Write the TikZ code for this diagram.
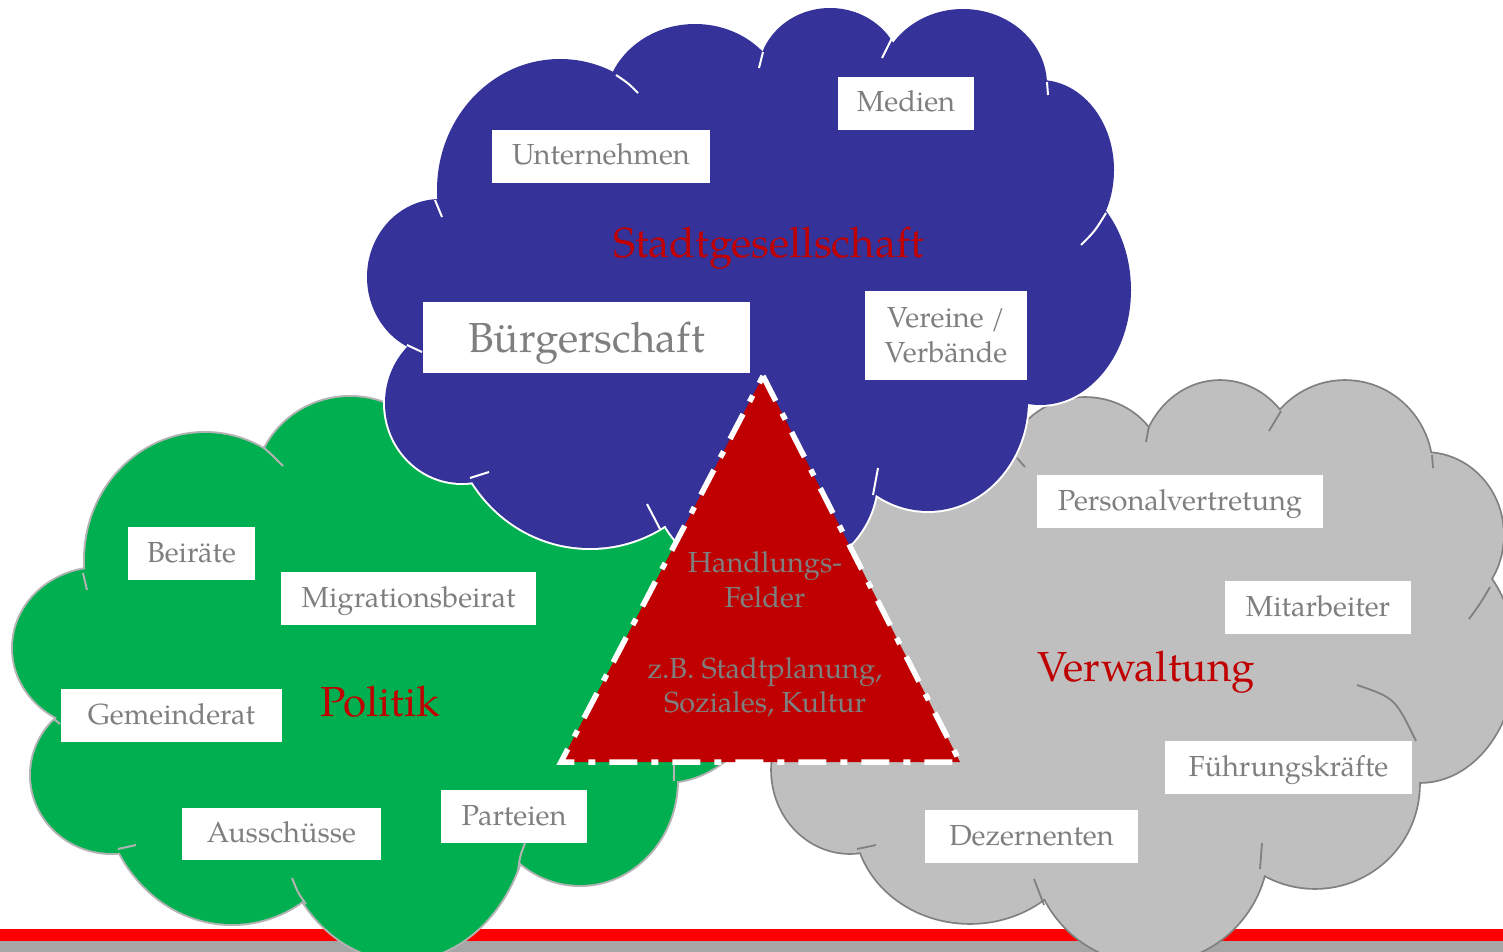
\documentclass[tikz,border=0pt]{standalone}
\usepackage{fontspec}
\setmainfont{texgyrepagella-regular.otf}
\definecolor{cblue}{HTML}{353399}
\definecolor{cgreen}{HTML}{00B050}
\definecolor{cgray}{HTML}{BFBFBF}
\definecolor{ctri}{HTML}{C00000}
\definecolor{ctext}{HTML}{7F7F7F}
\definecolor{cgline}{HTML}{B3B3B3}
\definecolor{crline}{HTML}{808080}
\definecolor{barred}{HTML}{FF0000}
\definecolor{bargray}{HTML}{A6A6A6}
\tikzset{
  lbl/.style={fill=white, text=ctext, inner sep=0pt, align=center, font=\fontsize{29}{35}\selectfont},
  one/.style={lbl, text height=22pt, text depth=5pt},
  ttl/.style={text=ctri, inner sep=0pt, anchor=base, font=\fontsize{42}{50}\selectfont},
  trit/.style={text=ctext, inner sep=0pt, align=center, font=\fontsize{29}{34.5}\selectfont},
  tri/.style={fill=ctri, draw=white, line width=5.5pt, dash pattern=on 28pt off 14pt on 7pt off 14pt},
  btail/.style={white, line width=2pt},
  gtail/.style={cgline, line width=2pt},
  rtail/.style={crline, line width=1.8pt},
}
\def\greenbumps{350/490/95/93, 205/560/120/127, 100/648/87/80, 112/775/81/78, 232/780/130/144, 402/800/128/160, 580/780/97/105, 665/605/125/177}
\def\graybumps{1085/470/78/72, 1220/470/80/89, 1345/470/87/89, 1425/535/78/82, 1420/660/95/122, 1315/784/104/104, 1150/845/118/118, 970/820/115/103, 850/770/78/83}
\def\bluebumps{560/190/123/131, 695/105/90/81, 830/75/72/67, 963/85/84/76, 1040/170/74/90, 1040/290/91/115, 928/400/100/111, 765/480/112/100, 590/404/140/144, 462/403/77/80, 440/277/73/78}
\begin{document}
\begin{tikzpicture}[x=1pt,y=-1pt]
\useasboundingbox (0,0) rectangle (1503,952);
% bottom bars
\fill[barred] (0,929) rectangle (1503,941);
\fill[bargray] (0,941) rectangle (1503,952);
% green cloud
\foreach \cx/\cy/\rx/\ry in \greenbumps {\draw[cgline, line width=4pt] (\cx,\cy) ellipse [x radius=\rx pt, y radius=\ry pt];}
\foreach \cx/\cy/\rx/\ry in \greenbumps {\fill[cgreen] (\cx,\cy) ellipse [x radius=\rx pt, y radius=\ry pt];}
\fill[cgreen] (350,680) ellipse [x radius=280pt, y radius=200pt];
\fill[cgreen] (380,420) -- (600,560) -- (700,540) -- (720,740) -- (600,750) -- (400,600) -- cycle;
\draw[gtail] (263,447) .. controls (272,455) .. (283,466);
\draw[gtail] (83,573) -- (87,590);
\draw[gtail] (54,719) -- (60,724);
\draw[gtail] (118,849) -- (136,845);
\draw[gtail] (306,904) .. controls (298,893) .. (292,878);
\draw[gtail] (518,871) .. controls (520,856) .. (525,843);
\draw[gtail] (674,763) -- (674,781);
% gray cloud
\foreach \cx/\cy/\rx/\ry in \graybumps {\draw[crline, line width=3.6pt] (\cx,\cy) ellipse [x radius=\rx pt, y radius=\ry pt];}
\foreach \cx/\cy/\rx/\ry in \graybumps {\fill[cgray] (\cx,\cy) ellipse [x radius=\rx pt, y radius=\ry pt];}
\fill[cgray] (1200,650) ellipse [x radius=260pt, y radius=200pt];
\fill[cgray] (850,500) -- (1000,440) -- (1060,480) -- (1100,600) -- (1010,770) -- (900,740) -- (800,700) -- cycle;
\draw[rtail] (1149,426) -- (1146,442);
\draw[rtail] (1281,411) -- (1269,431);
\draw[rtail] (1432,455) -- (1433,468);
\draw[rtail] (1490,587) .. controls (1480,604) .. (1469,619);
\draw[rtail] (1357,685) .. controls (1395,698) .. (1416,741);
\draw[rtail] (1260,869) -- (1262,843);
\draw[rtail] (1044,905) -- (1034,879);
\draw[rtail] (857,849) -- (876,845);
\draw[rtail] (1017,458) -- (1025,467);
% blue cloud
\foreach \cx/\cy/\rx/\ry in \bluebumps {\draw[white, line width=4pt] (\cx,\cy) ellipse [x radius=\rx pt, y radius=\ry pt];}
\foreach \cx/\cy/\rx/\ry in \bluebumps {\fill[cblue] (\cx,\cy) ellipse [x radius=\rx pt, y radius=\ry pt];}
\fill[cblue] (760,290) ellipse [x radius=300pt, y radius=200pt];
\draw[btail] (435,200) -- (442,217);
\draw[btail] (616,75) .. controls (628,83) .. (638,93);
\draw[btail] (763,52) -- (759,68);
\draw[btail] (892,38) -- (882,58);
\draw[btail] (1047,82) -- (1048,95);
\draw[btail] (1106,213) .. controls (1095,231) .. (1081,245);
\draw[btail] (873,495) -- (878,468);
\draw[btail] (660,529) -- (647,504);
\draw[btail] (470,478) -- (489,472);
\draw[btail] (407,345) -- (422,352);
% triangle
\coordinate (ta) at (763,376);
\coordinate (tr) at (960,762);
\coordinate (tl) at (561,762);
\draw[tri] (ta) -- (tr) -- (tl) -- cycle;
\node[trit] (hf) at (765,580) {Handlungs-\\Felder};
\node[trit] (bsp) at (765,687) {z.B. Stadtplanung,\\Soziales, Kultur};
% titles
\node[ttl] (stg) at (769,257) {Stadtgesellschaft};
\node[ttl] (pol) at (380,716) {Politik};
\node[ttl] (verw) at (1146,681) {Verwaltung};
% labels
\node[one, minimum width=218pt, minimum height=53pt] (unt) at (601,156.5) {Unternehmen};
\node[one, minimum width=136pt, minimum height=53pt] (med) at (906,103.5) {Medien};
\node[lbl, font=\fontsize{42}{50}\selectfont, text height=32pt, text depth=3pt, minimum width=327pt, minimum height=71pt] (bue) at (586.5,337.5) {Bürgerschaft};
\node[lbl, minimum width=162pt, minimum height=89pt] (ver) at (946,335.5) {Vereine /\\Verbände};
\node[one, minimum width=127pt, minimum height=53pt] (bei) at (191.5,553.5) {Beiräte};
\node[one, minimum width=255pt, minimum height=53pt] (mig) at (408.5,598.5) {Migrationsbeirat};
\node[one, minimum width=221pt, minimum height=53pt] (gem) at (171.5,715.5) {Gemeinderat};
\node[one, minimum width=199pt, minimum height=52pt] (aus) at (281.5,834) {Ausschüsse};
\node[one, minimum width=146pt, minimum height=53pt] (par) at (514,816.5) {Parteien};
\node[one, minimum width=286pt, minimum height=53pt] (pers) at (1180,501.5) {Personalvertretung};
\node[one, minimum width=186pt, minimum height=53pt] (mit) at (1318,607.5) {Mitarbeiter};
\node[one, minimum width=247pt, minimum height=53pt] (fue) at (1288.5,767.5) {Führungskräfte};
\node[one, minimum width=213pt, minimum height=53pt] (dez) at (1031.5,836.5) {Dezernenten};
\end{tikzpicture}
\end{document}
